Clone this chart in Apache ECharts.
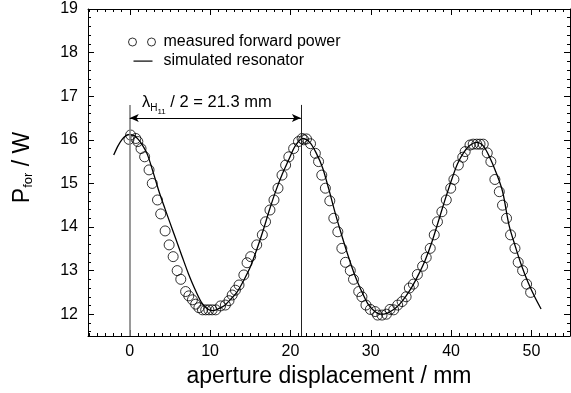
<!DOCTYPE html>
<html>
<head>
<meta charset="utf-8">
<script src="https://cdn.jsdelivr.net/npm/echarts@6/dist/echarts.min.js"></script>
<style>
  html, body { margin: 0; padding: 0; background: #fff; }
  #chart { width: 571px; height: 393px; }
</style>
</head>
<body>
<div id="chart"></div>
<script>
// measured forward power (circles)
var measX = [-0.1, 0.1, 0.75, 1.0, 1.4, 1.85, 2.4, 2.8, 3.45, 3.85, 4.4, 4.9, 5.4, 5.9, 6.35, 6.95, 7.35, 7.8, 8.2, 8.6,
  9.05, 9.45, 9.85, 10.25, 10.7, 11.3, 11.9, 12.35, 12.75, 13.15, 13.6, 14.2, 14.6, 15.05, 15.8, 16.5, 16.9, 17.45, 17.95, 18.45,
  18.95, 19.4, 19.8, 20.4, 21.0, 21.45, 21.65, 22.0, 22.5, 23.1, 23.5, 23.9, 24.35, 24.9, 25.4, 25.9, 26.4, 26.85, 27.45, 27.85,
  28.5, 28.9, 29.4, 29.95, 30.55, 30.85, 31.4, 31.95, 32.4, 32.85, 33.35, 33.9, 34.4, 34.8, 35.3, 35.8, 36.45, 36.9, 37.4, 37.9,
  38.3, 38.85, 39.4, 39.95, 40.35, 40.9, 41.45, 41.75, 42.35, 42.75, 43.2, 43.6, 44.0, 44.5, 44.95, 45.45, 46.0, 46.4, 46.9, 47.4,
  47.95, 48.35, 48.9, 49.4, 49.9];
var measY = [16.01, 16.11, 16.03, 15.96, 15.8, 15.61, 15.31, 15.0, 14.62, 14.3, 13.91, 13.59, 13.32, 13.0, 12.8, 12.52, 12.42, 12.33, 12.23, 12.15,
  12.1, 12.1, 12.1, 12.1, 12.1, 12.19, 12.21, 12.31, 12.44, 12.55, 12.67, 12.9, 13.18, 13.32, 13.59, 13.82, 14.12, 14.39, 14.62, 14.89,
  15.19, 15.42, 15.61, 15.8, 15.96, 16.03, 16.0, 16.02, 15.91, 15.69, 15.5, 15.19, 14.89, 14.6, 14.2, 13.89, 13.51, 13.19, 13.0, 12.8,
  12.52, 12.4, 12.21, 12.11, 12.06, 11.98, 11.98, 12.0, 12.11, 12.1, 12.21, 12.29, 12.4, 12.6, 12.69, 12.91, 13.1, 13.3, 13.51, 13.82,
  14.12, 14.35, 14.62, 14.89, 15.09, 15.42, 15.6, 15.73, 15.88, 15.9, 15.9, 15.9, 15.9, 15.7, 15.5, 15.09, 14.81, 14.5, 14.2, 13.82,
  13.51, 13.19, 13.0, 12.69, 12.5];

// simulated resonator (line)
var simX = [-2.0, -1.5, -1.0, -0.5, 0, 0.5, 1.0, 1.5, 2.2, 3.0, 3.7, 4.4, 5.0, 5.7, 6.5, 7.3, 8.1, 8.9, 9.6, 10.3,
  11.0, 11.8, 12.6, 13.4, 14.2, 15.0, 15.8, 16.6, 17.4, 18.2, 19.0, 19.8, 20.6, 21.5, 22.4, 23.2, 24.0, 24.8, 25.6, 26.4,
  27.2, 28.0, 28.8, 29.6, 30.4, 31.2, 32.0, 32.8, 33.6, 34.4, 35.2, 36.0, 36.8, 37.6, 38.4, 39.2, 40.0, 40.8, 41.6, 42.4,
  43.2, 44.0, 44.8, 45.6, 46.4, 47.2, 48.0, 48.8, 49.6, 50.4, 51.2];
var simY = [15.65, 15.85, 16.0, 16.09, 16.12, 16.1, 16.02, 15.9, 15.66, 15.2, 14.78, 14.41, 14.1, 13.74, 13.33, 12.93, 12.58, 12.28, 12.13, 12.08,
  12.12, 12.2, 12.35, 12.52, 12.78, 13.08, 13.48, 13.92, 14.4, 14.84, 15.22, 15.55, 15.86, 16.03, 15.94, 15.7, 15.36, 14.85, 14.3, 13.8,
  13.33, 12.9, 12.55, 12.25, 12.08, 12.0, 12.02, 12.1, 12.23, 12.42, 12.65, 12.93, 13.25, 13.65, 14.12, 14.6, 15.05, 15.45, 15.72, 15.88,
  15.94, 15.86, 15.6, 15.25, 14.82, 14.05, 13.55, 13.1, 12.72, 12.4, 12.12];

// half wavelength marker
var halfWave = [0, 21.3];
var arrowY = 16.5;
var markTop = 16.8;

// axis ticks
var xMin = -5.2, xMax = 54.8;
var yMin = 11.5, yMax = 19;
var xMajor = [0, 10, 20, 30, 40, 50];
var yMajor = [12, 13, 14, 15, 16, 17, 18, 19];
var xMinor = [];
for (var i = -5; i <= 54; i++) if (i % 10 !== 0) xMinor.push(i);
var yMinor = [];
for (var k = 116; k < 190; k += 2) if (k % 10 !== 0) yMinor.push(k / 10);

var FONT = 'Liberation Sans, Arial, Helvetica, sans-serif';

function xAx(pos, ticks, len, labels, line) {
  return {
    type: 'value', position: pos, min: xMin, max: xMax,
    axisLine: { show: line, onZero: false, lineStyle: { color: '#000', width: 1 } },
    axisTick: { show: true, inside: true, length: len, customValues: ticks, lineStyle: { color: '#000', width: 1 } },
    axisLabel: { show: labels, customValues: ticks, color: '#000', fontSize: 16, fontFamily: FONT, margin: 8 },
    splitLine: { show: false }
  };
}
function yAx(pos, ticks, len, labels, line) {
  return {
    type: 'value', position: pos, min: yMin, max: yMax,
    axisLine: { show: line, onZero: false, lineStyle: { color: '#000', width: 1 } },
    axisTick: { show: true, inside: true, length: len, customValues: ticks, lineStyle: { color: '#000', width: 1 } },
    axisLabel: { show: labels, customValues: ticks, color: '#000', fontSize: 16, fontFamily: FONT, margin: 10 },
    splitLine: { show: false }
  };
}

var xAxes = [xAx('bottom', xMajor, 6, true, true), xAx('bottom', xMinor, 3, false, false),
  xAx('top', xMajor, 6, false, true), xAx('top', xMinor, 3, false, false)];
xAxes[0].name = 'aperture displacement / mm';
xAxes[0].nameLocation = 'middle';
xAxes[0].nameGap = 26;
xAxes[0].nameTextStyle = { fontSize: 23, color: '#000', fontFamily: FONT };

var yAxes = [yAx('left', yMajor, 6, true, true), yAx('left', yMinor, 3, false, false),
  yAx('right', yMajor, 6, false, true), yAx('right', yMinor, 3, false, false)];
yAxes[0].name = '{p|P}{s|for}{p| / W}';
yAxes[0].nameLocation = 'middle';
yAxes[0].nameRotate = 90;
yAxes[0].nameGap = 53;
yAxes[0].nameTextStyle = {
  color: '#000', fontFamily: FONT, padding: [0, 0, 0, 10],
  rich: {
    p: { fontSize: 23, fontFamily: FONT, color: '#000' },
    s: { fontSize: 13, fontFamily: FONT, color: '#000', padding: [12, 0, 0, 0] }
  }
};

var measData = measX.map(function (x, i) { return [x, measY[i]]; });
var simData = simX.map(function (x, i) { return [x, simY[i]]; });

var chart = echarts.init(document.getElementById('chart'), null, { renderer: 'canvas' });
chart.setOption({
  animation: false,
  backgroundColor: '#fff',
  textStyle: { fontFamily: FONT },
  grid: { left: 88, right: 1, top: 9, bottom: 57, containLabel: false },
  xAxis: xAxes,
  yAxis: yAxes,
  legend: {
    orient: 'vertical', left: 128, top: 34, padding: 0, itemGap: 3,
    itemWidth: 30, itemHeight: 9, itemStyle: {},
    textStyle: { fontSize: 16, color: '#000', fontFamily: FONT },
    data: [
      { name: 'measured forward power',
        icon: 'path://M0,4.5A4,4 0 1 1 8,4.5A4,4 0 1 1 0,4.5Z M19,4.5A4,4 0 1 1 27,4.5A4,4 0 1 1 19,4.5Z M30,0M0,9',
        itemStyle: { color: 'transparent', borderColor: '#000', borderWidth: 1 } },
      { name: 'simulated resonator',
        icon: 'path://M0,0M30,9M5,4L24,4L24,5.2L5,5.2Z',
        itemStyle: { color: '#000', borderWidth: 0 } }
    ]
  },
  graphic: [{
    type: 'text', left: 142, top: 94,
    style: {
      text: '{l|λ}{h|H}{n|11}{t| / 2 = 21.3 mm}',
      fill: '#000',
      rich: {
        l: { fontSize: 16.5, fontFamily: FONT, fill: '#000' },
        h: { fontSize: 10, fontFamily: FONT, fill: '#000', padding: [12, 0, 0, 0] },
        n: { fontSize: 8, fontFamily: FONT, fill: '#000', padding: [18, 0, 0, 0] },
        t: { fontSize: 16.5, fontFamily: FONT, fill: '#000' }
      }
    }
  }],
  series: [
    {
      name: 'measured forward power', type: 'scatter',
      xAxisIndex: 0, yAxisIndex: 0,
      symbol: 'circle', symbolSize: 10,
      itemStyle: { color: 'transparent', borderColor: '#000', borderWidth: 1 },
      data: measData, z: 3
    },
    {
      name: 'simulated resonator', type: 'line', smooth: 0.3,
      xAxisIndex: 0, yAxisIndex: 0,
      symbol: 'none', lineStyle: { color: '#000', width: 1.3 },
      itemStyle: { color: '#000' },
      data: simData, z: 4,
      markLine: {
        silent: true, symbol: 'none', animation: false,
        label: { show: false },
        data: [
          [{ coord: [halfWave[0], markTop], lineStyle: { color: '#808080', width: 1.6, type: 'solid' } }, { coord: [halfWave[0], yMin] }],
          [{ coord: [halfWave[1], markTop], lineStyle: { color: '#222', width: 1, type: 'solid' } }, { coord: [halfWave[1], yMin] }],
          [{ coord: [halfWave[0], arrowY], symbol: 'arrow', symbolSize: [6, 9], lineStyle: { color: '#000', width: 1, type: 'solid' } },
           { coord: [halfWave[1], arrowY], symbol: 'arrow', symbolSize: [6, 9] }]
        ]
      }
    }
  ]
});
</script>
</body>
</html>
